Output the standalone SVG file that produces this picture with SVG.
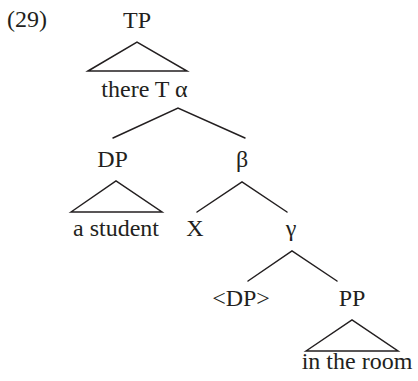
<svg xmlns="http://www.w3.org/2000/svg" width="418" height="381" viewBox="0 0 418 381">
<style>
text{font-family:"Liberation Serif","Times New Roman",serif;font-size:24px;fill:#231f20;text-anchor:middle}
.e{stroke:#231f20;stroke-width:1.5;fill:none;stroke-linecap:round;stroke-linejoin:miter}
</style>
<rect width="418" height="381" fill="#fff"/>
<text x="7" y="27" style="text-anchor:start">(29)</text>
<g id="connectors">
<path class="e" d="M88,71 L137,42 L187,71 Z"/>
<path class="e" d="M113,138 L178,108 L245,138"/>
<path class="e" d="M71,212 L116,181 L162,212 Z"/>
<path class="e" d="M197,212 L242,182 L287,212"/>
<path class="e" d="M248,281 L292,251 L337,281"/>
<path class="e" d="M306,351 L352,320 L398,351 Z"/>
</g>
<g id="TP"><text x="137" y="28">TP</text></g>
<g id="alpha"><text x="144.5" y="97">there T α</text></g>
<g id="DP"><text x="112.5" y="167">DP</text></g>
<g id="beta"><text x="242" y="167">β</text></g>
<g id="a-student"><text x="116" y="236">a student</text></g>
<g id="X"><text x="195" y="236">X</text></g>
<g id="gamma"><text x="291" y="236">γ</text></g>
<g id="DP-trace"><text x="241" y="306">&lt;DP&gt;</text></g>
<g id="PP"><text x="352" y="306">PP</text></g>
<g id="in-the-room"><text x="357" y="369">in the room</text></g>
</svg>
